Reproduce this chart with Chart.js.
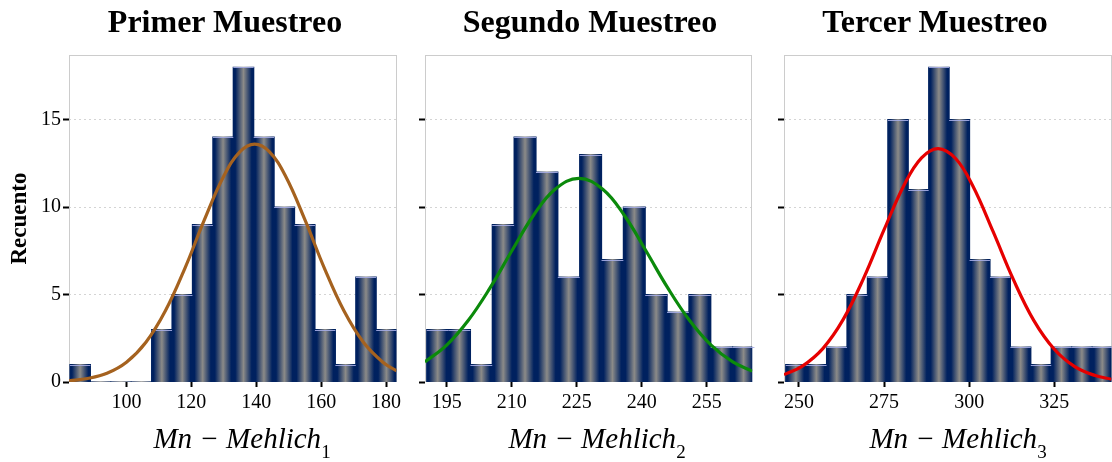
<!DOCTYPE html>
<html>
<head>
<meta charset="utf-8">
<script src="https://cdn.jsdelivr.net/npm/chart.js@4.4.1/dist/chart.umd.min.js"></script>
<style>
html,body{margin:0;padding:0;background:#fff;}
#wrap{position:relative;width:1112px;height:462px;overflow:hidden;font-family:'Liberation Serif',serif;color:#000;}
canvas{position:absolute;top:0;}
.title{position:absolute;top:5px;width:400px;text-align:center;font-weight:bold;font-size:32px;line-height:32px;white-space:nowrap;}
.xt{position:absolute;top:424px;width:300px;text-align:center;font-style:italic;font-size:29px;line-height:29px;white-space:nowrap;}
.xt sub{font-size:19px;font-style:normal;vertical-align:-10px;line-height:0;}
</style>
</head>
<body>
<div id="wrap">
  <canvas id="c1" width="405" height="462" style="left:0px;width:405px;height:462px"></canvas>
  <canvas id="c2" width="355" height="462" style="left:405px;width:355px;height:462px"></canvas>
  <canvas id="c3" width="352" height="462" style="left:760px;width:352px;height:462px"></canvas>
  <div class="title" style="left:25px">Primer Muestreo</div>
  <div class="title" style="left:390px">Segundo Muestreo</div>
  <div class="title" style="left:735px">Tercer Muestreo</div>
  <div class="xt" style="left:92px">Mn − Mehlich<sub>1</sub></div>
  <div class="xt" style="left:447px">Mn − Mehlich<sub>2</sub></div>
  <div class="xt" style="left:808px">Mn − Mehlich<sub>3</sub></div>
</div>
<script>
// ---------- data ----------
const yTicks = [0, 5, 10, 15];
const yMax = 18.7;

// Primer Muestreo
const centers1 = [85.74, 92.03, 98.32, 104.61, 110.90, 117.19, 123.48, 129.77, 136.06, 142.35, 148.64, 154.93, 161.22, 167.51, 173.80, 180.09];
const counts1  = [1, 0, 0, 0, 3, 5, 9, 14, 18, 14, 10, 9, 3, 1, 6, 3];
const xTicks1  = [100, 120, 140, 160, 180];
const xRange1  = [82.3, 183.2];
const curveX1  = [82.3, 88, 94, 100, 106, 112, 118, 124, 130, 135, 139.5, 144, 149, 155, 161, 167, 173, 179, 183.2];
const curveY1  = [0.07, 0.20, 0.50, 1.13, 2.27, 4.07, 6.50, 9.27, 11.78, 13.17, 13.6, 13.17, 11.78, 9.27, 6.50, 4.07, 2.27, 1.13, 0.64];

// Segundo Muestreo
const centers2 = [192.92, 197.96, 203.00, 208.04, 213.08, 218.12, 223.16, 228.20, 233.24, 238.28, 243.32, 248.36, 253.40, 258.44, 263.48];
const counts2  = [3, 3, 1, 9, 14, 12, 6, 13, 7, 10, 5, 4, 5, 2, 2];
const xTicks2  = [195, 210, 225, 240, 255];
const xRange2  = [190.0, 265.5];
const curveX2  = [190, 195, 200, 205, 210, 215, 220, 225.5, 231, 236, 241, 246, 251, 256, 261, 265.5];
const curveY2  = [1.15, 2.11, 3.53, 5.38, 7.49, 9.52, 11.02, 11.65, 11.02, 9.52, 7.49, 5.38, 3.53, 2.11, 1.15, 0.62];

// Tercer Muestreo
const centers3 = [249.1, 255.1, 261.1, 267.1, 273.1, 279.1, 285.1, 291.1, 297.1, 303.1, 309.1, 315.1, 321.1, 327.1, 333.1, 339.1];
const counts3  = [1, 1, 2, 5, 6, 15, 11, 18, 15, 7, 6, 2, 1, 2, 2, 2];
const xTicks3  = [250, 275, 300, 325];
const xRange3  = [245.6, 341.8];
const curveX3  = [245.6, 251, 257, 263, 269, 275, 281, 286, 290.9, 296, 301, 307, 313, 319, 325, 331, 337, 341.8];
const curveY3  = [0.42, 0.91, 1.91, 3.58, 5.94, 8.71, 11.31, 12.82, 13.35, 12.78, 11.24, 8.61, 5.85, 3.51, 1.87, 0.88, 0.37, 0.16];

// ---------- styling ----------
const FONT = "'Liberation Serif', serif";
const NAVY = '#00215f';
const GRAY = '#8c8b88';

const frame = {
  id: 'frame',
  beforeDatasetsDraw(chart) {
    const {ctx, chartArea: a} = chart;
    ctx.save();
    ctx.strokeStyle = '#cccccc';
    ctx.lineWidth = 1;
    const l = Math.round(a.left) + 0.5, t = Math.round(a.top) + 0.5;
    const r = Math.round(a.right) - 0.5, b = Math.round(a.bottom) - 0.5;
    ctx.strokeRect(l, t, r - l, b - t);
    ctx.restore();
  },
  afterDatasetDraw(chart, args) {
    const meta = args.meta;
    if (meta.type !== 'bar') return;
    const ctx = chart.ctx;
    ctx.save();
    ctx.strokeStyle = 'rgba(165,172,228,0.9)';
    ctx.lineWidth = 1;
    meta.data.forEach((el) => {
      if (Math.abs(el.base - el.y) < 0.5) return;
      const y = Math.round(el.y) + 0.5;
      ctx.beginPath();
      ctx.moveTo(el.x - el.width / 2, y);
      ctx.lineTo(el.x + el.width / 2, y);
      ctx.stroke();
    });
    ctx.restore();
  }
};

function makeChart(id, canvasLeft, canvasWidth, areaLeft, areaRight, centers, counts, cx, cy, color, xTicks, xRange, showY) {
  const bw = centers[1] - centers[0];
  const bars = centers.map((x, i) => ({x: x, y: counts[i]}));
  const curve = cx.map((x, i) => ({x: x, y: cy[i]}));
  return new Chart(document.getElementById(id), {
    type: 'bar',
    data: {
      datasets: [
        {
          type: 'line',
          data: curve,
          borderColor: color,
          borderWidth: 3.2,
          pointRadius: 0,
          tension: 0.4,
          fill: false,
          order: 0
        },
        {
          type: 'bar',
          data: bars,
          order: 1,
          barPercentage: 1,
          categoryPercentage: 1,
          inflateAmount: 0.6,
          borderWidth: 0,
          backgroundColor: (c) => {
            const chart = c.chart;
            const xs = chart.scales && chart.scales.x;
            if (c.type !== 'data' || !xs || !chart.chartArea) return NAVY;
            const l = xs.getPixelForValue(c.raw.x - bw / 2);
            const r = xs.getPixelForValue(c.raw.x + bw / 2);
            if (!isFinite(l) || !isFinite(r) || r <= l) return NAVY;
            const g = chart.ctx.createLinearGradient(l, 0, r, 0);
            g.addColorStop(0, NAVY);
            g.addColorStop(0.1, NAVY);
            g.addColorStop(0.5, GRAY);
            g.addColorStop(0.9, NAVY);
            g.addColorStop(1, NAVY);
            return g;
          }
        }
      ]
    },
    options: {
      responsive: false,
      animation: false,
      events: [],
      layout: {padding: {top: 55, left: 0, bottom: 0, right: canvasWidth - (areaRight - canvasLeft)}},
      plugins: {legend: {display: false}, tooltip: {enabled: false}, title: {display: false}},
      scales: {
        x: {
          type: 'linear',
          min: xRange[0], max: xRange[1],
          offset: false,
          afterBuildTicks: (s) => { s.ticks = xTicks.map(v => ({value: v})); },
          afterFit: (s) => { s.height = 80; s.paddingLeft = 0; s.paddingRight = 0; },
          grid: {drawOnChartArea: false, drawTicks: true, tickLength: 5, tickColor: '#000', tickWidth: 2, offset: false},
          border: {display: false},
          ticks: {font: {family: FONT, size: 20}, color: '#000', padding: 4, maxRotation: 0, autoSkip: false}
        },
        y: {
          type: 'linear',
          min: 0, max: yMax,
          afterBuildTicks: (s) => { s.ticks = yTicks.map(v => ({value: v})); },
          afterFit: (s) => { s.width = areaLeft - canvasLeft; s.paddingTop = 0; s.paddingBottom = 0; },
          grid: {
            color: (c) => (c.tick && c.tick.value === 0) ? 'rgba(0,0,0,0)' : '#d4d4d4',
            lineWidth: 1, drawTicks: true, tickLength: 6, tickColor: '#000', tickWidth: 2
          },
          border: {display: false, dash: [2, 3]},
          ticks: {display: showY, font: {family: FONT, size: 20}, color: '#000', padding: 2},
          title: {display: showY, text: 'Recuento', color: '#000', font: {family: FONT, size: 23, weight: 'bold'}, padding: {top: 6, bottom: 0}}
        }
      }
    },
    plugins: [frame]
  });
}

makeChart('c1', 0, 405, 69, 396.5, centers1, counts1, curveX1, curveY1, '#a5621f', xTicks1, xRange1, true);
makeChart('c2', 405, 355, 425, 752.3, centers2, counts2, curveX2, curveY2, '#0b8a0b', xTicks2, xRange2, false);
makeChart('c3', 760, 352, 784, 1111.5, centers3, counts3, curveX3, curveY3, '#e60000', xTicks3, xRange3, false);
</script>
</body>
</html>
